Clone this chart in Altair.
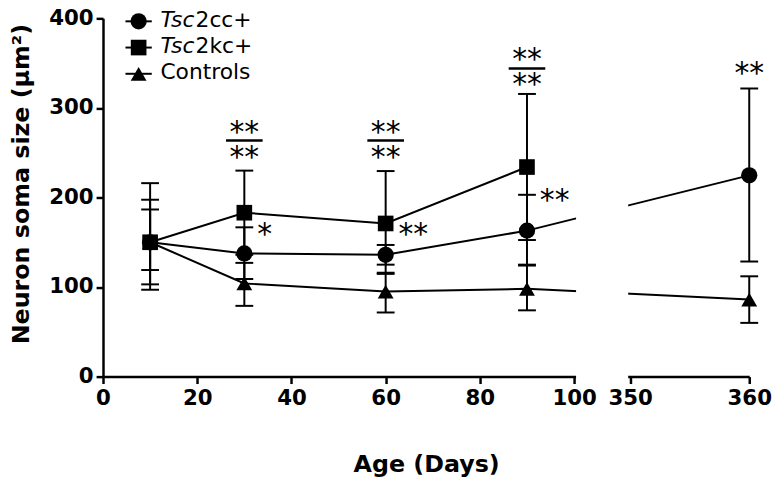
import altair as alt
import pandas as pd

# ---------------- data ----------------
days = [10, 30, 60, 90, 360]
cc_mean = [150, 137.5, 136, 163, 224.7]
cc_hi = [186.6, 166.7, 147, 203, 321.7]
cc_lo = [119, 109, 125, 124, 128.5]

kc_days = [10, 30, 60, 90]
kc_mean = [150, 183, 171, 234]
kc_hi = [216, 230, 229.5, 315.6]
kc_lo = [97, 136, 114.7, 152.5]

ctrl_mean = [150, 104, 95, 98, 86]
ctrl_hi = [197.5, 127, 116, 125, 112]
ctrl_lo = [103, 79, 71.6, 74, 60]

# significance annotations
stack_days = [30, 60, 90]
stack_top = [277.5, 277.5, 358.4]
stack_bar = [263.6, 263.6, 343.9]
stack_bottom = [249.4, 249.4, 331]
single_days = [360]
single_val = [343.1]
side_days = [30, 60, 90]
side_val = [163, 163, 202]
side_text = ["*", "**", "**"]

x_tick_days = [0, 20, 40, 60, 80, 100, 350, 360]
y_ticks = [0, 100, 200, 300, 400]

legend_italic = ["Tsc", "Tsc", ""]
legend_rest = ["2cc+", "2kc+", "Controls"]

# ---------------- broken x axis ----------------
BREAK_END = 100
BREAK_START = 350
GAP = 11.9      # axis units left empty between 100 and 350
K2 = 2.528      # axis units per day after the break


def pos(d):
    return d if d <= BREAK_END else BREAK_END + GAP + (d - BREAK_START) * K2


X_MAX = pos(360)
W, H = 653, 362
FONT = "DejaVu Sans"

rows = []
for name, ds, m, lo, hi in [
    ("Tsc2cc+", days, cc_mean, cc_lo, cc_hi),
    ("Tsc2kc+", kc_days, kc_mean, kc_lo, kc_hi),
    ("Controls", days, ctrl_mean, ctrl_lo, ctrl_hi),
]:
    for d, a, b, c in zip(ds, m, lo, hi):
        rows.append({"series": name, "day": d, "pos": pos(d), "mean": a, "lo": b, "hi": c})
df = pd.DataFrame(rows)

xscale = alt.Scale(domain=[0, X_MAX], nice=False, zero=False)
yscale = alt.Scale(domain=[0, 400], nice=False)

label_expr = (
    f"datum.value <= {BREAK_END} ? format(datum.value, 'd') : "
    f"format({BREAK_START} + (datum.value - {BREAK_END + GAP}) / {K2}, '.0f')"
)

xaxis = alt.Axis(
    values=[pos(d) for d in x_tick_days], labelExpr=label_expr,
    labelFlush=False, labelOverlap=False, grid=False,
    domainColor="black", domainWidth=2.5, tickColor="black", tickWidth=2.5, tickSize=7,
    labelFont=FONT, labelFontWeight="bold", labelFontSize=21.5, labelColor="black", labelPadding=4,
    title="Age (Days)", titleFont=FONT, titleFontSize=24, titleFontWeight="bold", titleColor="black",
    titleX=W / 2, titleY=96, titleAlign="center", titleBaseline="alphabetic",
)
yaxis = alt.Axis(
    values=y_ticks, labelFlush=False, grid=False,
    domainColor="black", domainWidth=2.5, tickColor="black", tickWidth=2.5, tickSize=7,
    labelFont=FONT, labelFontWeight="bold", labelFontSize=21.5, labelColor="black", labelPadding=3,
    title="Neuron soma size (µm²)", titleFont=FONT, titleFontSize=24, titleFontWeight="bold",
    titleColor="black", titleX=-82, titleY=167, titleAngle=270, titleAlign="center",
    titleBaseline="middle",
)

base = alt.Chart(df)
X = alt.X("pos:Q", scale=xscale, axis=xaxis)

lines = base.mark_line(color="black", strokeWidth=2).encode(
    x=X, y=alt.Y("mean:Q", scale=yscale, axis=yaxis), detail="series:N", order="pos:Q"
)

mask_df = pd.DataFrame({"x0": [pos(BREAK_END)], "x1": [pos(BREAK_START)], "y0": [0], "y1": [400]})
mask = alt.Chart(mask_df).mark_rect(color="white", xOffset=2, x2Offset=-2, y2Offset=4).encode(
    x=alt.X("x0:Q", scale=xscale), x2="x1:Q", y=alt.Y("y1:Q", scale=yscale), y2="y0:Q"
)

err = base.mark_rule(color="black", strokeWidth=2).encode(
    x=alt.X("pos:Q", scale=xscale), y=alt.Y("lo:Q", scale=yscale), y2="hi:Q"
)
cap_lo = base.mark_tick(orient="horizontal", color="black", size=18, thickness=2, opacity=1).encode(
    x=alt.X("pos:Q", scale=xscale), y=alt.Y("lo:Q", scale=yscale)
)
cap_hi = base.mark_tick(orient="horizontal", color="black", size=18, thickness=2, opacity=1).encode(
    x=alt.X("pos:Q", scale=xscale), y=alt.Y("hi:Q", scale=yscale)
)

styles = {"Tsc2cc+": ("circle", 270), "Tsc2kc+": ("square", 250), "Controls": ("triangle-up", 256)}
points = []
for name, (shape, size) in styles.items():
    points.append(
        alt.Chart(df[df.series == name]).mark_point(
            filled=True, opacity=1, color="black", shape=shape, size=size
        ).encode(x=alt.X("pos:Q", scale=xscale), y=alt.Y("mean:Q", scale=yscale))
    )

# annotations
STAR_FS = 30
STAR_DY = 0.6 * STAR_FS - 4
ann_rows = []
for d, t, b in zip(stack_days, stack_top, stack_bottom):
    ann_rows.append({"pos": pos(d), "v": t, "txt": "**"})
    ann_rows.append({"pos": pos(d), "v": b, "txt": "**"})
for d, v in zip(single_days, single_val):
    ann_rows.append({"pos": pos(d), "v": v, "txt": "**"})
ann_df = pd.DataFrame(ann_rows)
stars = alt.Chart(ann_df).mark_text(
    font=FONT, fontSize=STAR_FS, align="center", baseline="alphabetic", dy=STAR_DY, color="black"
).encode(x=alt.X("pos:Q", scale=xscale), y=alt.Y("v:Q", scale=yscale), text="txt:N")

bar_df = pd.DataFrame({"pos": [pos(d) for d in stack_days], "v": stack_bar})
bars = alt.Chart(bar_df).mark_tick(orient="horizontal", color="black", size=37, thickness=2.5, opacity=1).encode(
    x=alt.X("pos:Q", scale=xscale), y=alt.Y("v:Q", scale=yscale)
)

side_df = pd.DataFrame({"pos": [pos(d) for d in side_days], "v": side_val, "txt": side_text})
side = alt.Chart(side_df).mark_text(
    font=FONT, fontSize=STAR_FS, align="left", baseline="alphabetic", dx=13, dy=STAR_DY, color="black"
).encode(x=alt.X("pos:Q", scale=xscale), y=alt.Y("v:Q", scale=yscale), text="txt:N")

# manual legend (pixel layout)
LEG_FS = 22
ITAL_W = 35.5
leg_df = pd.DataFrame({
    "ital": legend_italic,
    "rest": legend_rest,
    "my": [3 + 26.5 * i for i in range(3)],
})
leg_df["ty"] = leg_df["my"] + 5.5
leg_df["tx"] = [58 + (ITAL_W if it else 0) for it in legend_italic]
leg_df["shape"] = ["circle", "square", "triangle-up"]
leg_df["size"] = [270, 250, 256]

leg_lines = alt.Chart(leg_df).mark_rule(color="black", strokeWidth=2).encode(
    x=alt.value(22.7), x2=alt.value(49.3), y=alt.Y("my:Q", scale=None)
)
leg_marks = alt.Chart(leg_df).mark_point(filled=True, opacity=1, color="black").encode(
    x=alt.value(36), y=alt.Y("my:Q", scale=None),
    shape=alt.Shape("shape:N", scale=None), size=alt.Size("size:Q", scale=None)
)
leg_ital = alt.Chart(leg_df).mark_text(
    font=FONT, fontSize=LEG_FS, fontStyle="italic", align="left", baseline="alphabetic", color="black"
).encode(x=alt.value(58), y=alt.Y("ty:Q", scale=None), text="ital:N")
leg_rest = alt.Chart(leg_df).mark_text(
    font=FONT, fontSize=LEG_FS, align="left", baseline="alphabetic", color="black"
).encode(x=alt.X("tx:Q", scale=None), y=alt.Y("ty:Q", scale=None), text="rest:N")

chart = alt.layer(
    lines, mask, err, cap_lo, cap_hi, *points, stars, bars, side,
    leg_lines, leg_marks, leg_ital, leg_rest,
).properties(
    width=W, height=H,
    autosize=alt.AutoSizeParams(type="none"),
    padding={"left": 96, "top": 8, "right": 23, "bottom": 102},
).configure_view(stroke=None)

chart.save("out.html", embed_options={"renderer": "svg", "actions": False})
